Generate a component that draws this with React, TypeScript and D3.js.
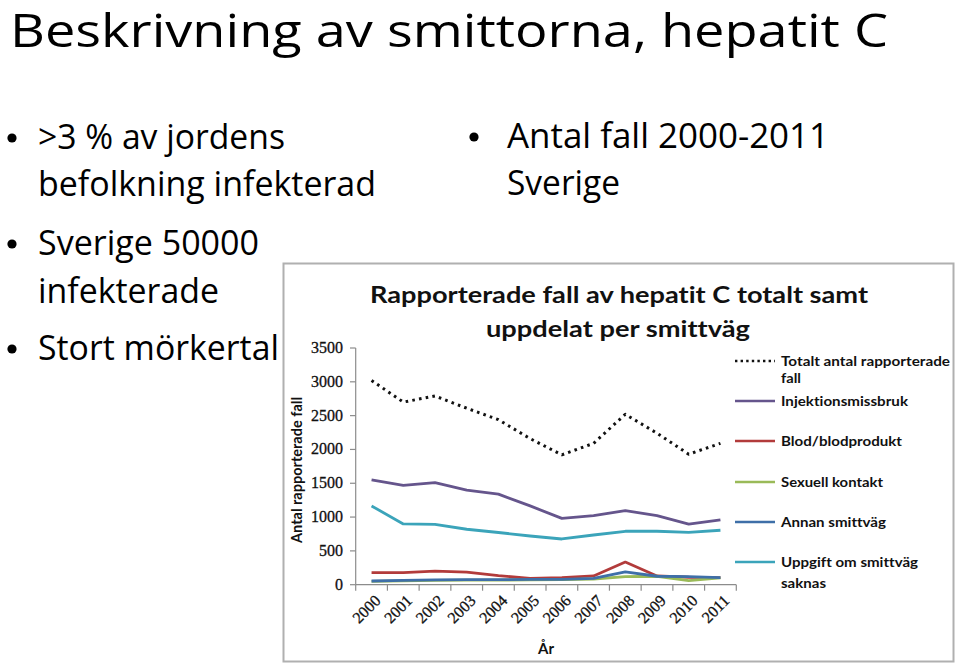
import React from "react";
import * as d3 from "d3";

const years = ["2000","2001","2002","2003","2004","2005","2006","2007","2008","2009","2010","2011"];
const totalt = [3020, 2700, 2790, 2610, 2440, 2160, 1920, 2090, 2520, 2240, 1930, 2090];
const injektion = [1550, 1470, 1510, 1400, 1340, 1165, 980, 1020, 1095, 1020, 895, 960];
const blod = [178, 178, 202, 185, 133, 94, 104, 130, 335, 130, 110, 104];
const sexuell = [50, 58, 64, 68, 68, 72, 74, 84, 118, 125, 60, 100];
const annan = [55, 64, 72, 74, 74, 79, 80, 94, 190, 125, 118, 104];
const uppgift = [1165, 898, 893, 820, 772, 720, 676, 735, 790, 790, 775, 805];
const yTicks = [0, 500, 1000, 1500, 2000, 2500, 3000, 3500];

const seriesNames = ["Totalt antal rapporterade fall", "Injektionsmissbruk", "Blod/blodprodukt", "Sexuell kontakt", "Annan smittväg", "Uppgift om smittväg saknas"];
const seriesColors = ["#111111", "#65558c", "#b23b3b", "#9aba58", "#3e6fa8", "#3ba4ba"];
const seriesValues = [totalt, injektion, blod, sexuell, annan, uppgift];

const SANS = "Lato, 'Open Sans', sans-serif";
const BODY = "'Open Sans', Lato, sans-serif";
const SERIF = "'Liberation Serif', 'DejaVu Serif', serif";
const noLig = { fontVariantLigatures: "none" as const };

export default function App() {
  const x = d3.scaleBand<string>().domain(years).range([355.7, 736.3]).padding(0);
  const cx = (yr: string) => (x(yr) as number) + x.bandwidth() / 2;
  const y = d3.scaleLinear().domain([0, 3500]).range([584.7, 348]);
  const line = d3.line<number>().x((_, i) => cx(years[i])).y((v) => y(v));

  const drawOrder = [1, 2, 3, 4, 5, 0];
  const legendRows = [
    { idx: 0, lineY: 361, texts: [{ t: "Totalt antal rapporterade", y: 366, w: 169 }, { t: "fall", y: 383, w: 20 }] },
    { idx: 1, lineY: 401, texts: [{ t: "Injektionsmissbruk", y: 406, w: 127 }] },
    { idx: 2, lineY: 441, texts: [{ t: "Blod/blodprodukt", y: 446, w: 121 }] },
    { idx: 3, lineY: 482, texts: [{ t: "Sexuell kontakt", y: 487, w: 102 }] },
    { idx: 4, lineY: 522, texts: [{ t: "Annan smittväg", y: 527, w: 105 }] },
    { idx: 5, lineY: 562, texts: [{ t: "Uppgift om smittväg", y: 567, w: 137 }, { t: "saknas", y: 588, w: 45 }] },
  ];

  const bullets = [
    { bx: 12, tx: 38, lines: [{ t: ">3 % av jordens", y: 149, w: 247 }, { t: "befolkning infekterad", y: 196, w: 338 }] },
    { bx: 12, tx: 38, lines: [{ t: "Sverige 50000", y: 255, w: 221 }, { t: "infekterade", y: 303, w: 181 }] },
    { bx: 12, tx: 38, lines: [{ t: "Stort mörkertal", y: 360, w: 241 }] },
    { bx: 474, tx: 507, lines: [{ t: "Antal fall 2000-2011", y: 148, w: 322 }, { t: "Sverige", y: 195, w: 113 }] },
  ];

  return (
    <svg width={959} height={665} style={{ position: "absolute", left: 0, top: 0, background: "#fff" }}>
      <rect x={0} y={0} width={959} height={665} fill="#fff" />
      <text x={10} y={47} fontFamily={BODY} fontSize={45} fill="#000" style={noLig} textLength={878} lengthAdjust="spacingAndGlyphs">
        Beskrivning av smittorna, hepatit C
      </text>
      {bullets.map((b, i) => (
        <g key={i}>
          <circle cx={b.bx} cy={b.lines[0].y - 11} r={4.6} fill="#000" />
          {b.lines.map((l, j) => (
            <text key={j} x={b.tx} y={l.y} fontFamily={BODY} fontSize={34} fill="#000" style={noLig} textLength={l.w} lengthAdjust="spacingAndGlyphs">
              {l.t}
            </text>
          ))}
        </g>
      ))}

      {/* chart frame */}
      <rect x={283.5} y={263.5} width={670} height={398} fill="#fff" stroke="#b0b0b0" strokeWidth={2} />
      <text x={619} y={303} textAnchor="middle" fontFamily={SANS} fontWeight={700} fontSize={22} fill="#111" style={noLig} textLength={498} lengthAdjust="spacingAndGlyphs">
        Rapporterade fall av hepatit C totalt samt
      </text>
      <text x={618} y={337} textAnchor="middle" fontFamily={SANS} fontWeight={700} fontSize={22} fill="#111" style={noLig} textLength={264} lengthAdjust="spacingAndGlyphs">
        uppdelat per smittväg
      </text>

      {/* y axis */}
      <line x1={355.7} x2={355.7} y1={y(3500)} y2={y(0)} stroke="#8c8c8c" strokeWidth={1.2} />
      {yTicks.map((t) => (
        <g key={t}>
          <line x1={350} x2={355.7} y1={y(t)} y2={y(t)} stroke="#8c8c8c" strokeWidth={1.2} />
          <text x={343} y={y(t) + 5} textAnchor="end" fontFamily={SERIF} fontSize={16} fill="#111" stroke="#111" strokeWidth={0.3}>
            {t}
          </text>
        </g>
      ))}
      <text transform={`translate(302,470) rotate(-90)`} textAnchor="middle" fontFamily={SANS} fontWeight={700} fontSize={15} fill="#111" style={noLig} textLength={146} lengthAdjust="spacingAndGlyphs">
        Antal rapporterade fall
      </text>

      {/* x axis */}
      <line x1={355.7} x2={736.3} y1={y(0)} y2={y(0)} stroke="#8c8c8c" strokeWidth={1.2} />
      {years.map((yr) => (
        <line key={"t" + yr} x1={x(yr) as number} x2={x(yr) as number} y1={y(0)} y2={y(0) + 6} stroke="#8c8c8c" strokeWidth={1.2} />
      ))}
      <line x1={736.3} x2={736.3} y1={y(0)} y2={y(0) + 6} stroke="#8c8c8c" strokeWidth={1.2} />
      {years.map((yr) => (
        <text key={"l" + yr} transform={`translate(${cx(yr) + 10},${y(0) + 17}) rotate(-45)`} textAnchor="end" fontFamily={SERIF} fontSize={16} fill="#111" stroke="#111" strokeWidth={0.3}>
          {yr}
        </text>
      ))}
      <text x={546} y={654} textAnchor="middle" fontFamily={SANS} fontWeight={700} fontSize={15} fill="#111">
        År
      </text>

      {/* series */}
      {drawOrder.map((k) => (
        <path
          key={"s" + k}
          d={line(seriesValues[k]) as string}
          fill="none"
          stroke={seriesColors[k]}
          strokeWidth={k === 0 ? 3 : 2.8}
          strokeDasharray={k === 0 ? "2.6 4.2" : undefined}
          strokeLinejoin="round"
        >
          <title>{seriesNames[k]}</title>
        </path>
      ))}

      {/* legend */}
      {legendRows.map((r) => (
        <g key={"lg" + r.idx}>
          <line x1={735} x2={775} y1={r.lineY} y2={r.lineY} stroke={seriesColors[r.idx]} strokeWidth={2.6} strokeDasharray={r.idx === 0 ? "2.4 3.2" : undefined} />
          {r.texts.map((tt, j) => (
            <text key={j} x={781} y={tt.y} fontFamily={SANS} fontWeight={700} fontSize={13.5} fill="#111" style={noLig} textLength={tt.w} lengthAdjust="spacingAndGlyphs">
              {tt.t}
            </text>
          ))}
        </g>
      ))}
    </svg>
  );
}
